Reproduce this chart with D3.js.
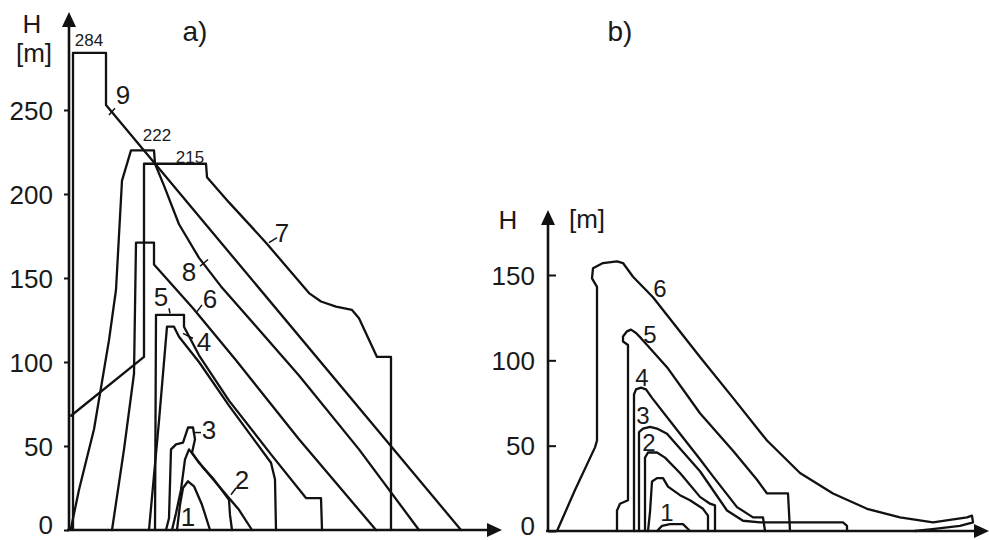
<!DOCTYPE html>
<html><head><meta charset="utf-8">
<script src="https://cdn.jsdelivr.net/npm/d3@7"></script>
<style>
html,body{margin:0;padding:0;background:#fff;}
svg{display:block;}
text{font-family:"Liberation Sans",Arial,Helvetica,sans-serif;fill:#1a1a1a;}
</style></head>
<body>
<svg id="chart" width="989" height="540"></svg>
<script>
// ---------- DATA (x: relative distance units, y: H in metres) ----------
// Panel a)
const yTicksA = [0, 50, 100, 150, 200, 250];
const a9 = [[4,0],[4,284],[37,284],[37,253],[392,0]];
const a8 = [[2,1],[10,24],[25,60],[40,113],[47,143],[53,208],[62,226],[85,226],[86,218],[95,205],[110,182],[130,162],[152,145],[230,92],[290,48],[350,0]];
const a7 = [[2,68],[75,103],[75,218],[137,218],[138,210],[160,195],[197,171],[240,141],[252,136],[267,133],[283,131],[290,126],[308,103],[322,103],[322,0]];
const a6 = [[43,0],[55,48],[65,93],[67,171],[85,171],[85,158],[124,132],[167,101],[230,54],[307,0]];
const a5 = [[86,0],[87,128],[115,128],[115,121],[130,104],[160,77],[202,45],[237,19],[252,19],[253,0]];
const a4 = [[80,0],[90,65],[98,121],[105,121],[110,115],[130,100],[160,74],[202,40],[206,30],[207,0]];
const a3 = [[97,0],[100,7],[102,48],[107,51],[114,52],[119,61],[124,61],[126,54],[123,46],[130,40],[145,30],[160,18],[161,9],[163,0]];
const a2 = [[103,0],[107,10],[112,24],[116,42],[120,48],[133,38],[150,26],[170,12],[183,0]];
const a1 = [[108,0],[111,15],[114,25],[119,29],[125,26],[133,15],[141,0]];
const peakLabelsA = [["284",20,292],["222",88,235],["215",121,222]];
const curveLabelsA = [["9",54,259],["7",213,177],["8",120,154],["6",141,138],["5",92,139],["4",135,112],["3",140,60],["2",173,30],["1",119,8]];
const leadersA = [[[40,247],[46,251]],[[200,171],[208,174]],[[131,157],[139,161]],[[128,130],[133,134]],[[100,132],[101,129]],[[114,117],[124,114]],[[125,58],[132,58]],[[162,21],[167,25]]];

// Panel b)
const yTicksB = [0, 50, 100, 150];
const b6 = [[9,0],[27,24],[47,49],[49,53],[49,143],[44,148],[45,154],[55,157],[69,158],[75,157],[85,149],[105,137],[152,102],[185,78],[219,53],[252,34],[285,22],[319,13],[352,8],[385,5],[419,8],[424,9],[425,5],[412,3],[382,1],[367,0]];
const b5 = [[69,0],[69,12],[72,16],[80,18],[80,109],[75,111],[75,114],[79,117],[83,118],[88,116],[93,113],[119,96],[152,69],[185,47],[209,30],[219,22],[240,22],[242,0]];
const b4 = [[86,0],[86,80],[88,83],[93,84],[98,83],[104,78],[132,57],[152,42],[165,32],[189,14],[205,8],[215,8],[217,0]];
const b3 = [[91,0],[91,58],[95,60],[102,61],[109,60],[119,57],[152,35],[179,12],[195,6],[212,5],[295,5],[299,3],[299,0]];
const b2 = [[97,0],[97,43],[100,46],[109,46],[117,43],[132,34],[152,20],[162,16],[167,15],[167,0]];
const b1 = [[100,0],[102,11],[104,29],[109,31],[115,31],[120,26],[132,21],[142,18],[155,13],[160,9],[160,0]];
const b0 = [[109,0],[114,3],[122,4],[135,4],[142,0]];
const curveLabelsB = [["6",112,142],["5",102,115],["4",94,90],["3",95,68],["2",101,52],["1",119,11]];

// ---------- DRAWING ----------
const svg = d3.select("#chart");
const ink = "#111";

function panel(cfg){
  const g = svg.append("g");
  const x = cfg.x, y = cfg.y;
  const line = d3.line().x(d=>x(d[0])).y(d=>y(d[1]));
  const ax = x(0), ay = y(0);
  g.append("line").attr("x1",ax).attr("y1",ay+1).attr("x2",ax).attr("y2",cfg.yTip+6)
    .attr("stroke",ink).attr("stroke-width",2.6);
  g.append("path").attr("d",`M${ax},${cfg.yTip}L${ax-7},${cfg.yTip+15}L${ax+7},${cfg.yTip+15}Z`).attr("fill",ink);
  g.append("line").attr("x1",ax-2).attr("y1",ay).attr("x2",cfg.xTip-6).attr("y2",ay)
    .attr("stroke",ink).attr("stroke-width",2.6);
  g.append("path").attr("d",`M${cfg.xTip},${ay}L${cfg.xTip-15},${ay-7}L${cfg.xTip-15},${ay+7}Z`).attr("fill",ink);
  const axis = d3.axisLeft(y).tickValues(cfg.ticks).tickSize(cfg.tickSize).tickPadding(cfg.tickPad).tickFormat(d3.format("d"));
  const ga = g.append("g").attr("transform",`translate(${ax},0)`).call(axis);
  ga.select(".domain").remove();
  ga.selectAll(".tick line").attr("stroke",ink).attr("stroke-width",2);
  ga.selectAll(".tick text").attr("font-size",26).attr("fill","#1a1a1a")
    .attr("font-family","'Liberation Sans',Arial,sans-serif").attr("dy",d=>d===0?"0.12em":"0.35em");
  cfg.curves.forEach(c=>{
    g.append("path").attr("d",line(c)).attr("fill","none").attr("stroke",ink)
      .attr("stroke-width",2.3).attr("stroke-linejoin","round").attr("stroke-linecap","round");
  });
  (cfg.leaders||[]).forEach(l=>{
    g.append("path").attr("d",line(l)).attr("stroke",ink).attr("stroke-width",1.5).attr("fill","none");
  });
  cfg.labels.forEach(l=>{
    g.append("text").attr("x",x(l[1])).attr("y",y(l[2])).attr("dy","0.36em")
      .attr("text-anchor","middle").attr("font-size",cfg.labelSize).text(l[0]);
  });
  (cfg.peaks||[]).forEach(l=>{
    g.append("text").attr("x",x(l[1])).attr("y",y(l[2])).attr("dy","0.36em")
      .attr("text-anchor","middle").attr("font-size",17).text(l[0]);
  });
  return g;
}

const xA = d3.scaleLinear().domain([0,430]).range([69,499]);
const yA = d3.scaleLinear().domain([0,300]).range([530,26]);
const xB = d3.scaleLinear().domain([0,441]).range([548,989]);
const yB = d3.scaleLinear().domain([0,150]).range([531,275]);

panel({x:xA,y:yA,yTip:12,xTip:502,ticks:yTicksA,tickSize:5,tickPad:11,
  curves:[a9,a8,a7,a6,a5,a4,a3,a2,a1],labels:curveLabelsA,leaders:leadersA,peaks:peakLabelsA,labelSize:26});
panel({x:xB,y:yB,yTip:210,xTip:989,ticks:yTicksB,tickSize:-8,tickPad:13,
  curves:[b6,b5,b4,b3,b2,b1,b0],labels:curveLabelsB,labelSize:24});

const titles = [["a)",195,31,28],["b)",620,31,28],["H",32,24,26],["[m]",34,53,26],["H",508,220,26],["[m]",587,219,26]];
titles.forEach(t=>{
  svg.append("text").attr("x",t[1]).attr("y",t[2]).attr("dy","0.36em").attr("text-anchor","middle").attr("font-size",t[3]).text(t[0]);
});
</script>
</body></html>
